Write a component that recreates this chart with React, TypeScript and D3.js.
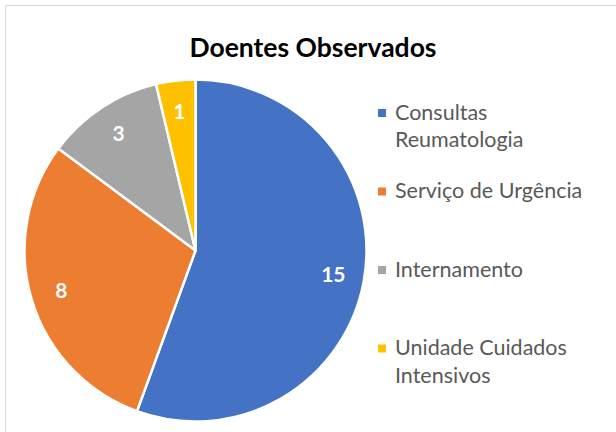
import React from "react";
import * as d3 from "d3";

const categories = ["Consultas Reumatologia", "Serviço de Urgência", "Internamento", "Unidade Cuidados Intensivos"];
const legendLines = [["Consultas", "Reumatologia"], ["Serviço de Urgência"], ["Internamento"], ["Unidade Cuidados", "Intensivos"]];
const values = [15, 8, 3, 1];
const colors = ["#4472C4", "#ED7D31", "#A5A5A5", "#FFC000"];

const W = 616;
const H = 432;
const cx = 195.5;
const cy = 250.5;
const R = 171;
const font = "Lato, Carlito, 'Open Sans', sans-serif";

export default function App() {
  const data = categories.map((c, i) => ({ name: c, value: values[i], color: colors[i] }));
  const pie = d3.pie<any>().sort(null).value(d => d.value);
  const arcs = pie(data);
  const arc = d3.arc<any>().innerRadius(0).outerRadius(R);
  const labelArc = d3.arc<any>().innerRadius(140).outerRadius(140);

  const legendY = d3.scaleLinear().domain([0, 3]).range([113, 348.5]);

  return (
    <div style={{ position: "absolute", left: 0, top: 0 }}>
      <svg width={W} height={H} fontFamily={font}>
        <rect x={0} y={0} width={W} height={H} fill="#fff" />
        <rect x={5.5} y={5.5} width={W + 10} height={H + 10} fill="none" stroke="#d9d9d9" strokeWidth={1} />
        <text x={313} y={57} textAnchor="middle" fontSize={26.5} fontWeight="bold" fill="#000">Doentes Observados</text>
        <g transform={`translate(${cx},${cy})`}>
          {arcs.map(d => (
            <path key={d.data.name} d={arc(d) || ""} fill={d.data.color} stroke="#fff" strokeWidth={2.5} strokeLinejoin="round" />
          ))}
          {arcs.map(d => {
            const [x, y] = labelArc.centroid(d);
            return (
              <text key={d.data.name + "l"} x={x} y={y} dy="0.36em" textAnchor="middle" fill="#fff" fontWeight="bold" fontSize={21}>
                {d.data.value}
              </text>
            );
          })}
        </g>
        {legendLines.map((lines, i) => {
          const y = legendY(i);
          return (
            <g key={categories[i]}>
              <rect x={378} y={y - 4} width={8} height={8} fill={colors[i]} />
              {lines.map((t, j) => (
                <text key={t} x={395} y={y + 6.5 + j * 27.5} fontSize={21.5} fill="#595959">{t}</text>
              ))}
            </g>
          );
        })}
      </svg>
    </div>
  );
}
